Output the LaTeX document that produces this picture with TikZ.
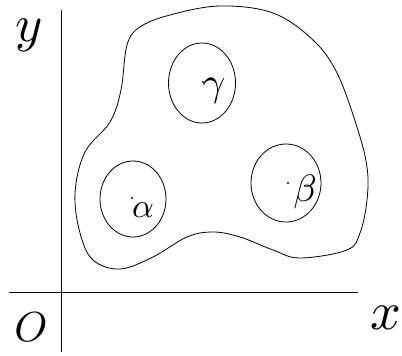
\documentclass[tikz,border=0pt]{standalone}
\usepackage{amsmath,amssymb,amsfonts}
\usepackage{graphicx}
\usepackage{tikz}
\usepackage{xcolor}
\usetikzlibrary{shapes.geometric}

\newcommand{\bigsym}[2]{\scalebox{#1}{$#2$}}
\tikzset{
  letter/.style={inner sep=0pt},
  region/.style={draw,ellipse,inner sep=0pt}
}

\begin{document}
\begin{tikzpicture}[x=1pt,y=-1pt,line width=0.8pt]
\useasboundingbox (0,0) rectangle (402,356);
\coordinate (ytop) at (61,10);
\coordinate (ybot) at (61,352);
\coordinate (xl) at (9,292);
\coordinate (xr) at (358,292);
\draw (ytop)--(ybot);
\draw (xl)--(xr);
\node[letter] at (29,35) (ylab){\bigsym{5.2}{y}};
\node[letter] at (386,318) (xlab){\bigsym{5.4}{x}};
\node[letter] at (31,327) (olab){\bigsym{4.2}{O}};
% the region
\draw plot[smooth cycle,tension=0.6] coordinates {
(220,6) (273,13) (313,40) (337,73) (357,127) (367,167) (367,200)
(360,233) (347,250) (300,258) (273,250) (240,237) (213,232) (187,237)
(153,257) (120,269) (93,260) (80,233) (75,193) (85,152) (110,122)
(121,90) (127,45) (140,27) (170,15)};
\node[region,minimum width=67pt,minimum height=80pt] at (202,83) (g){};
\node[region,minimum width=66pt,minimum height=76pt] at (133,199) (a){};
\node[region,minimum width=70pt,minimum height=78pt] at (286,183) (b){};
\coordinate (pg) at (203,82);
\coordinate (pa) at (132,198);
\coordinate (pb) at (288,183);
\foreach \p in {pg,pa,pb}{
\fill (\p) circle (1.2pt);
}
\node[letter] at (214,91) (lg){\bigsym{4}{\gamma}};
\node[letter] at (143,210) (la){\bigsym{3.4}{\alpha}};
\node[letter] at (305,192) (lb){\bigsym{3.8}{\beta}};
\end{tikzpicture}
\end{document}
